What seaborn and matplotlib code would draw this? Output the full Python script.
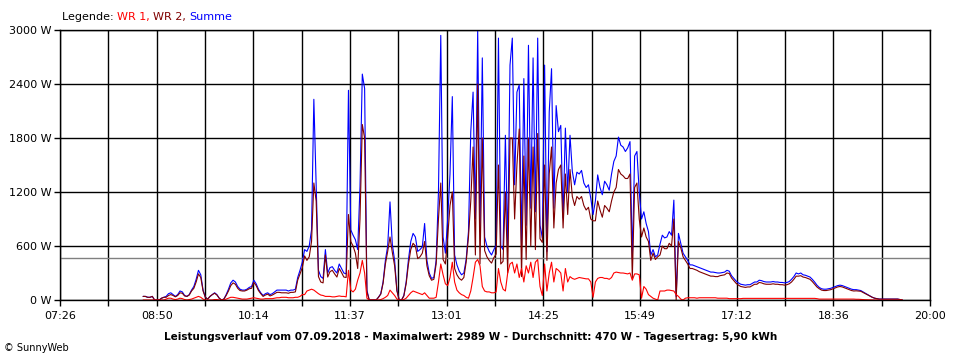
import pandas as pd
import matplotlib.pyplot as plt
import matplotlib.dates as mdates
import seaborn as sns

# Messwerte (W), alle 2 Minuten ab 08:38, 10 Werte pro Zeile = 20 Minuten
summe = [
    40, 40, 30, 30, 40, 0, 0, 0, 20, 30,
    40, 70, 80, 60, 40, 60, 100, 90, 50, 40,
    60, 110, 150, 230, 330, 280, 110, 30, 10, 40,
    60, 80, 60, 20, 0, 10, 60, 120, 190, 220,
    200, 150, 120, 110, 110, 120, 140, 150, 220, 180,
    120, 80, 50, 70, 80, 60, 70, 90, 110, 110,
    110, 110, 110, 100, 110, 110, 120, 250, 330, 420,
    560, 540, 600, 780, 2230, 1260, 330, 260, 240, 560,
    300, 360, 370, 330, 300, 400, 350, 300, 290, 2330,
    780, 720, 670, 560, 1260, 2510, 2350, 110, 0, 0,
    0, 0, 30, 70, 200, 440, 600, 1090, 620, 440,
    110, 0, 0, 50, 200, 450, 650, 740, 700, 540,
    560, 590, 850, 440, 300, 240, 250, 440, 1200, 2940,
    700, 520, 900, 1400, 2260, 500, 390, 320, 280, 300,
    450, 760, 1870, 2310, 900, 2989, 760, 2690, 700, 600,
    540, 500, 560, 610, 2910, 600, 560, 1830, 600, 2610,
    2910, 1280, 2310, 2390, 610, 2460, 830, 2830, 1020, 2690,
    980, 2910, 830, 690, 2610, 540, 2090, 2570, 1020, 2160,
    1870, 1940, 910, 1910, 1200, 1830, 1430, 1280, 1420, 1400,
    1440, 1300, 1250, 1280, 1130, 950, 1100, 1390, 1250, 1170,
    1320, 1280, 1220, 1400, 1540, 1600, 1810, 1720, 1700, 1650,
    1690, 1760, 460, 1600, 1650, 1200, 900, 980, 850, 760,
    500, 560, 480, 500, 620, 720, 690, 700, 760, 720,
    1110, 40, 740, 630, 520, 480, 440, 390, 390, 380,
    370, 360, 350, 340, 330, 320, 310, 310, 305, 300,
    300, 305, 310, 330, 320, 270, 240, 210, 190, 175,
    170, 165, 170, 170, 185, 200, 200, 220, 215, 205,
    200, 200, 200, 205, 200, 200, 195, 195, 190, 195,
    205, 230, 260, 300, 290, 300, 280, 275, 265, 255,
    230, 200, 165, 140, 125, 120, 120, 125, 130, 140,
    150, 160, 165, 160, 150, 140, 130, 120, 115, 115,
    110, 105, 90, 75, 60, 45, 30, 20, 15, 10,
    10, 10, 10, 10, 10, 10, 10, 10, 5, 0,
]

wr1 = [
    0, 0, 0, 0, 0, 0, 0, 0, 0, 0,
    10, 20, 20, 10, 5, 10, 20, 15, 5, 0,
    5, 10, 20, 30, 40, 30, 10, 0, 0, 0,
    0, 5, 5, 0, 0, 0, 10, 20, 30, 30,
    25, 20, 15, 10, 10, 10, 15, 20, 25, 20,
    15, 10, 10, 15, 15, 15, 15, 20, 25, 25,
    30, 30, 30, 25, 25, 25, 30, 30, 40, 60,
    60, 100, 110, 120, 110, 90, 70, 55, 50, 40,
    40, 40, 35, 35, 40, 45, 40, 40, 35, 330,
    110, 90, 120, 220, 300, 440, 300, 20, 0, 0,
    0, 0, 0, 5, 15, 30, 50, 110, 80, 50,
    10, 0, 0, 5, 20, 50, 80, 100, 90, 80,
    70, 60, 80, 50, 20, 20, 20, 30, 200, 400,
    280, 180, 160, 250, 420, 200, 110, 80, 60, 50,
    30, 20, 100, 250, 420, 450, 380, 150, 100, 90,
    90, 80, 80, 90, 350, 200, 120, 100, 300, 400,
    420, 300, 400, 250, 350, 200, 380, 300, 420, 250,
    420, 450, 150, 50, 400, 100, 300, 420, 200, 350,
    330, 300, 100, 350, 200, 260, 240, 230, 240, 250,
    245, 240, 235, 235, 200, 30, 200, 240, 250, 250,
    240, 240, 230, 250, 300, 310, 305, 300, 300, 295,
    290, 300, 220, 290, 290, 280, 20, 150, 120, 60,
    40, 20, 10, 0, 100, 100, 100, 110, 110, 105,
    100, 60, 40, 10, 0, 20, 25, 25, 25, 25,
    20, 25, 25, 25, 25, 25, 25, 25, 25, 20,
    20, 20, 20, 20, 15, 15, 15, 15, 15, 15,
    18, 18, 18, 18, 18, 18, 18, 18, 18, 18,
    18, 18, 18, 18, 18, 18, 18, 18, 18, 18,
    18, 18, 18, 18, 18, 18, 18, 18, 18, 18,
    18, 18, 15, 10, 10, 10, 10, 10, 10, 10,
    10, 10, 10, 10, 10, 10, 10, 10, 10, 8,
    8, 6, 5, 3, 2, 0, 0, 0, 0, 0,
    0, 0, 0, 0, 0, 0, 0, 0, 0, 0,
]

wr2 = [
    40, 40, 30, 30, 40, 0, 0, 0, 20, 30,
    30, 50, 60, 50, 35, 50, 80, 75, 45, 40,
    55, 100, 130, 200, 290, 250, 100, 30, 10, 40,
    60, 75, 55, 20, 0, 10, 50, 100, 160, 190,
    175, 130, 105, 100, 100, 110, 125, 130, 195, 160,
    105, 70, 40, 55, 65, 45, 55, 70, 85, 85,
    80, 80, 80, 75, 85, 85, 90, 220, 290, 360,
    490, 440, 480, 650, 1300, 1100, 260, 200, 190, 500,
    255, 315, 330, 290, 255, 350, 305, 255, 250, 950,
    650, 600, 520, 350, 900, 1950, 1800, 90, 0, 0,
    0, 0, 30, 65, 185, 400, 540, 700, 530, 380,
    100, 0, 0, 45, 180, 400, 560, 630, 600, 460,
    480, 520, 650, 380, 270, 220, 230, 400, 900, 1300,
    450, 400, 700, 1050, 1200, 350, 280, 240, 220, 250,
    420, 700, 1100, 1700, 500, 2400, 400, 1800, 550, 480,
    440, 410, 470, 510, 1500, 400, 430, 1200, 300, 1800,
    1800, 900, 1500, 1900, 260, 1600, 450, 1800, 600, 1700,
    560, 1850, 680, 640, 1500, 440, 1400, 1700, 800, 1300,
    1450, 1500, 800, 1400, 950, 1450, 1150, 1050, 1150, 1120,
    1150, 1050, 1000, 1030, 900, 880, 880, 1100, 1000, 920,
    1050, 1020, 980, 1100, 1200, 1250, 1450, 1400, 1380, 1350,
    1350, 1400, 240, 1250, 1300, 900, 700, 800, 700, 650,
    440, 520, 450, 480, 500, 600, 570, 570, 630, 600,
    900, 0, 650, 580, 480, 440, 400, 350, 350, 340,
    330, 315, 305, 295, 285, 275, 265, 265, 260, 260,
    270, 275, 280, 300, 295, 245, 215, 185, 165, 150,
    145, 140, 145, 145, 160, 175, 175, 195, 190, 180,
    175, 175, 175, 180, 175, 175, 170, 170, 165, 170,
    180, 200, 230, 265, 265, 270, 255, 250, 240, 230,
    205, 175, 145, 125, 110, 105, 105, 110, 115, 125,
    135, 145, 150, 145, 135, 125, 115, 105, 100, 102,
    100, 97, 83, 70, 57, 44, 30, 20, 15, 10,
    10, 10, 10, 10, 10, 10, 10, 10, 5, 0,
]

x_labels = ['07:26', '08:50', '10:14', '11:37', '13:01',
            '14:25', '15:49', '17:12', '18:36', '20:00']
y_ticks = [0, 600, 1200, 1800, 2400, 3000]
durchschnitt = 470
titel = ('Leistungsverlauf vom 07.09.2018 - Maximalwert: 2989 W - '
         'Durchschnitt: 470 W - Tagesertrag: 5,90 kWh')

farben = {'WR 1': '#FF0000', 'WR 2': '#800000', 'Summe': '#0000FF'}

zeit = pd.date_range('2018-09-07 08:38', periods=len(summe), freq='2min')
df = pd.DataFrame({'Zeit': zeit, 'WR 1': wr1, 'WR 2': wr2, 'Summe': summe})
df_long = df.melt(id_vars='Zeit', var_name='Serie', value_name='Leistung')

sns.set_style('white')
plt.rcParams['font.family'] = ['DejaVu Sans']
plt.rcParams['text.color'] = 'black'
plt.rcParams['xtick.color'] = 'black'
plt.rcParams['ytick.color'] = 'black'

fig = plt.figure(figsize=(9.6, 3.6), dpi=100)
ax = fig.add_axes([60 / 960, 60 / 360, 870 / 960, 270 / 360])

sns.lineplot(data=df_long, x='Zeit', y='Leistung', hue='Serie',
             hue_order=['Summe', 'WR 2', 'WR 1'], palette=farben,
             linewidth=0.8, legend=False, estimator=None, ax=ax)

# Durchschnittslinie
ax.axhline(durchschnitt, color='#808080', linewidth=1, zorder=1)

# Zeitachse: 18 gleiche Abschnitte zwischen 07:26 und 20:00
x0 = pd.Timestamp('2018-09-07 07:26')
x1 = pd.Timestamp('2018-09-07 20:00')
schritt = (x1 - x0) / 18
major = [x0 + schritt * (2 * k) for k in range(10)]
minor = [x0 + schritt * (2 * k + 1) for k in range(9)]
ax.set_xlim(mdates.date2num(x0), mdates.date2num(x1))
ax.set_xticks(mdates.date2num(major))
ax.set_xticklabels(x_labels)
ax.set_xticks(mdates.date2num(minor), minor=True)
ax.set_ylim(0, 3000)
ax.set_yticks(y_ticks)
ax.set_yticklabels([f'{v} W' for v in y_ticks])
ax.set_xlabel('')
ax.set_ylabel('')

ax.grid(True, which='both', axis='x', color='black', linewidth=1)
ax.grid(True, which='major', axis='y', color='black', linewidth=1)
ax.set_axisbelow(True)
ax.tick_params(axis='x', which='both', direction='out', length=4,
               width=1, color='black', labelcolor='black', labelsize=8,
               pad=4, bottom=True)
ax.tick_params(axis='y', direction='out', length=4, width=1,
               color='black', labelcolor='black', labelsize=8, pad=2,
               left=True)
for s in ax.spines.values():
    s.set_color('black')
    s.set_linewidth(1)

# Legende oben links, mehrfarbig
t = fig.text(62 / 960, 1 - 22 / 360, 'Legende: ', fontsize=8, color='black',
             va='bottom')
for name in ['WR 1', 'WR 2', 'Summe']:
    label = name + (', ' if name != 'Summe' else '')
    t = ax.annotate(label, xy=(1, 0), xycoords=t, va='bottom', fontsize=8,
                    color=farben[name], annotation_clip=False)

fig.text(0.49, 1 - 337 / 360, titel, ha='center', va='center',
         fontsize=7.5, fontweight='bold', color='black')
fig.text(4 / 960, 1 - 348 / 360, '\u00a9 SunnyWeb', fontsize=7,
         va='center', color='black')

plt.savefig('out.png', dpi=100)
plt.close()
